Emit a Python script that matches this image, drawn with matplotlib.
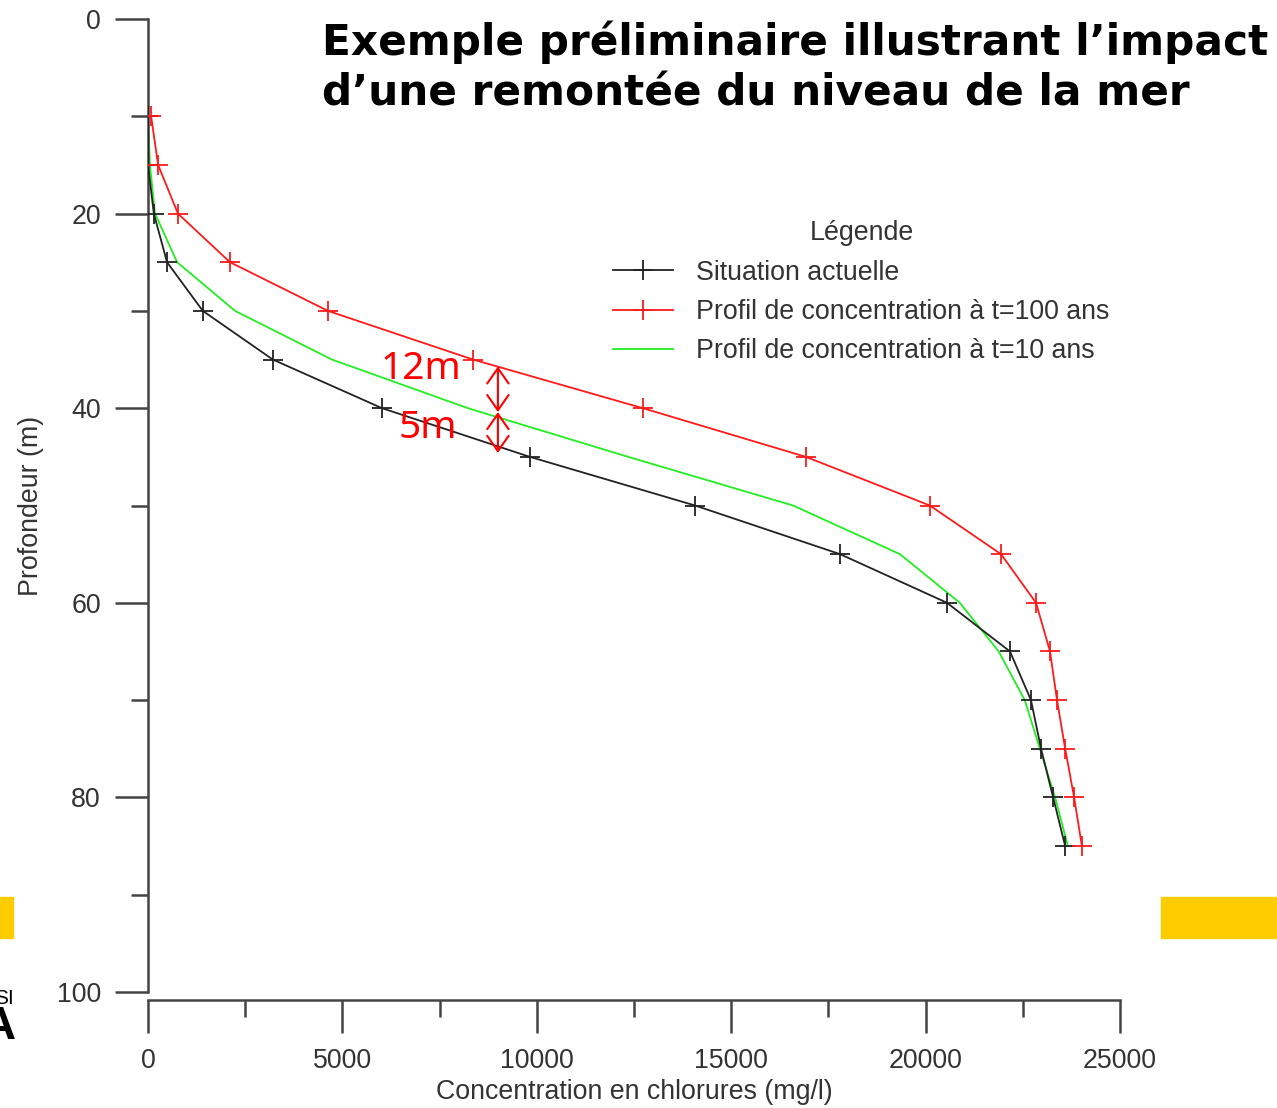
import matplotlib
matplotlib.use("Agg")
import matplotlib.pyplot as plt
from matplotlib.patches import Rectangle

# ---------------- data ----------------
depth = [10, 15, 20, 25, 30, 35, 40, 45, 50, 55, 60, 65, 70, 75, 80, 85]
actuelle = [0, 0, 150, 490, 1410, 3210, 6020, 9820, 14070, 17800, 20550, 22170, 22710, 22970, 23280, 23590]
t100 = [80, 260, 770, 2110, 4630, 8360, 12730, 16920, 20110, 21940, 22840, 23200, 23380, 23590, 23820, 24020]
t10 = [0, 50, 180, 750, 2240, 4730, 8230, 12350, 16590, 19340, 20880, 21880, 22550, 22940, 23330, 23660]

x_ticks = [0, 5000, 10000, 15000, 20000, 25000]
y_ticks = [0, 20, 40, 60, 80, 100]
x_minor = [2500, 7500, 12500, 17500, 22500]
y_minor = [10, 30, 50, 70, 90]

series_labels = ["Situation actuelle",
                 "Profil de concentration à t=100 ans",
                 "Profil de concentration à t=10 ans"]
title_text = "Exemple préliminaire illustrant l\u2019impact\nd\u2019une remontée du niveau de la mer"

# arrows (x position, depths) and labels
arrow_x = 9000
arrow_depths = [35.7, 40.4, 44.6]
arrow_labels = ["12m", "5m"]

W, H = 1277, 1108
fig = plt.figure(figsize=(W / 100, H / 100), dpi=100)

def fx(px):
    return px / W

def fy(py):
    return 1 - py / H

ax = fig.add_axes([fx(148), fy(992), fx(1120) - fx(148), fy(19) - fy(992)])

sans = ["Liberation Sans", "DejaVu Sans"]
axis_col = "#444444"
text_col = "#333333"
fs = 19.3

ax.plot(actuelle, depth, color="#222222", lw=1.3, marker="+", ms=15, mew=1.3,
        label=series_labels[0], zorder=3)
ax.plot(t100, depth, color="#ff1a1a", lw=1.3, marker="+", ms=15, mew=1.3,
        label=series_labels[1], zorder=3)
ax.plot(t10, depth, color="#22ee22", lw=1.3, label=series_labels[2], zorder=2)

ax.set_xlim(0, 25000)
ax.set_ylim(100, 0)

for s in ["top", "right"]:
    ax.spines[s].set_visible(False)
for s in ["left", "bottom"]:
    ax.spines[s].set_color(axis_col)
    ax.spines[s].set_linewidth(1.8)
ax.spines["bottom"].set_position(("outward", 6))

ax.set_xticks(x_ticks)
ax.set_yticks(y_ticks)
ax.set_xticks(x_minor, minor=True)
ax.set_yticks(y_minor, minor=True)
ax.tick_params(which="major", length=24, width=1.8, color=axis_col, direction="out",
               labelsize=fs, labelcolor=text_col, pad=10)
ax.tick_params(which="minor", length=12, width=1.8, color=axis_col, direction="out")
for lab in ax.get_xticklabels() + ax.get_yticklabels():
    lab.set_family(sans)

ax.set_xlabel("Concentration en chlorures (mg/l)", fontsize=fs, color=text_col,
              family=sans)
ax.set_ylabel("Profondeur (m)", fontsize=fs, color=text_col, family=sans)
ax.xaxis.set_label_coords(0.5005, -0.089)
ax.yaxis.set_label_coords(-0.107, 0.5)

# legend
leg = ax.legend(loc="upper left", bbox_to_anchor=(fx(589), fy(196)),
                bbox_transform=fig.transFigure, frameon=False,
                title="Légende", prop={"family": sans, "size": fs},
                handlelength=2.25, handletextpad=0.86, labelspacing=0.5)
leg.get_title().set_fontsize(fs)
leg.get_title().set_family(sans)
leg.get_title().set_color(text_col)
for t in leg.get_texts():
    t.set_color(text_col)

# arrows
for i in range(2):
    ax.annotate("", xy=(arrow_x, arrow_depths[i]), xytext=(arrow_x, arrow_depths[i + 1]),
                arrowprops=dict(arrowstyle="<->,head_length=0.5,head_width=0.35",
                                color="red", lw=1.5,
                                mutation_scale=22, shrinkA=0, shrinkB=0), zorder=4)
ax.text(8070, 36.0, arrow_labels[0], color="red", fontsize=28, ha="right",
        va="center", family=["Noto Sans", "DejaVu Sans"], zorder=5)
ax.text(7950, 42.0, arrow_labels[1], color="red", fontsize=28, ha="right",
        va="center", family=["Noto Sans", "DejaVu Sans"], zorder=5)

# title
fig.text(fx(322), fy(21), title_text, fontsize=30.45, fontweight="bold", color="black",
         ha="left", va="top", family=["DejaVu Sans"], linespacing=1.23)

# slide decorations (yellow bars, partly visible logo text)
fig.patches.append(Rectangle((fx(0), fy(938)), fx(13), fy(897) - fy(938),
                             transform=fig.transFigure, color="#ffcc00", zorder=0))
fig.patches.append(Rectangle((fx(1161), fy(938)), fx(1277) - fx(1161), fy(897) - fy(938),
                             transform=fig.transFigure, color="#ffcc00", zorder=0))
fig.text(fx(14), fy(998), "SI", fontsize=15, ha="right", va="center", color="black",
         family=sans)
fig.text(fx(16), fy(1027), "A", fontsize=34, fontweight="bold", ha="right", va="center",
         color="black", family=sans)

fig.savefig("out.png", dpi=100)
